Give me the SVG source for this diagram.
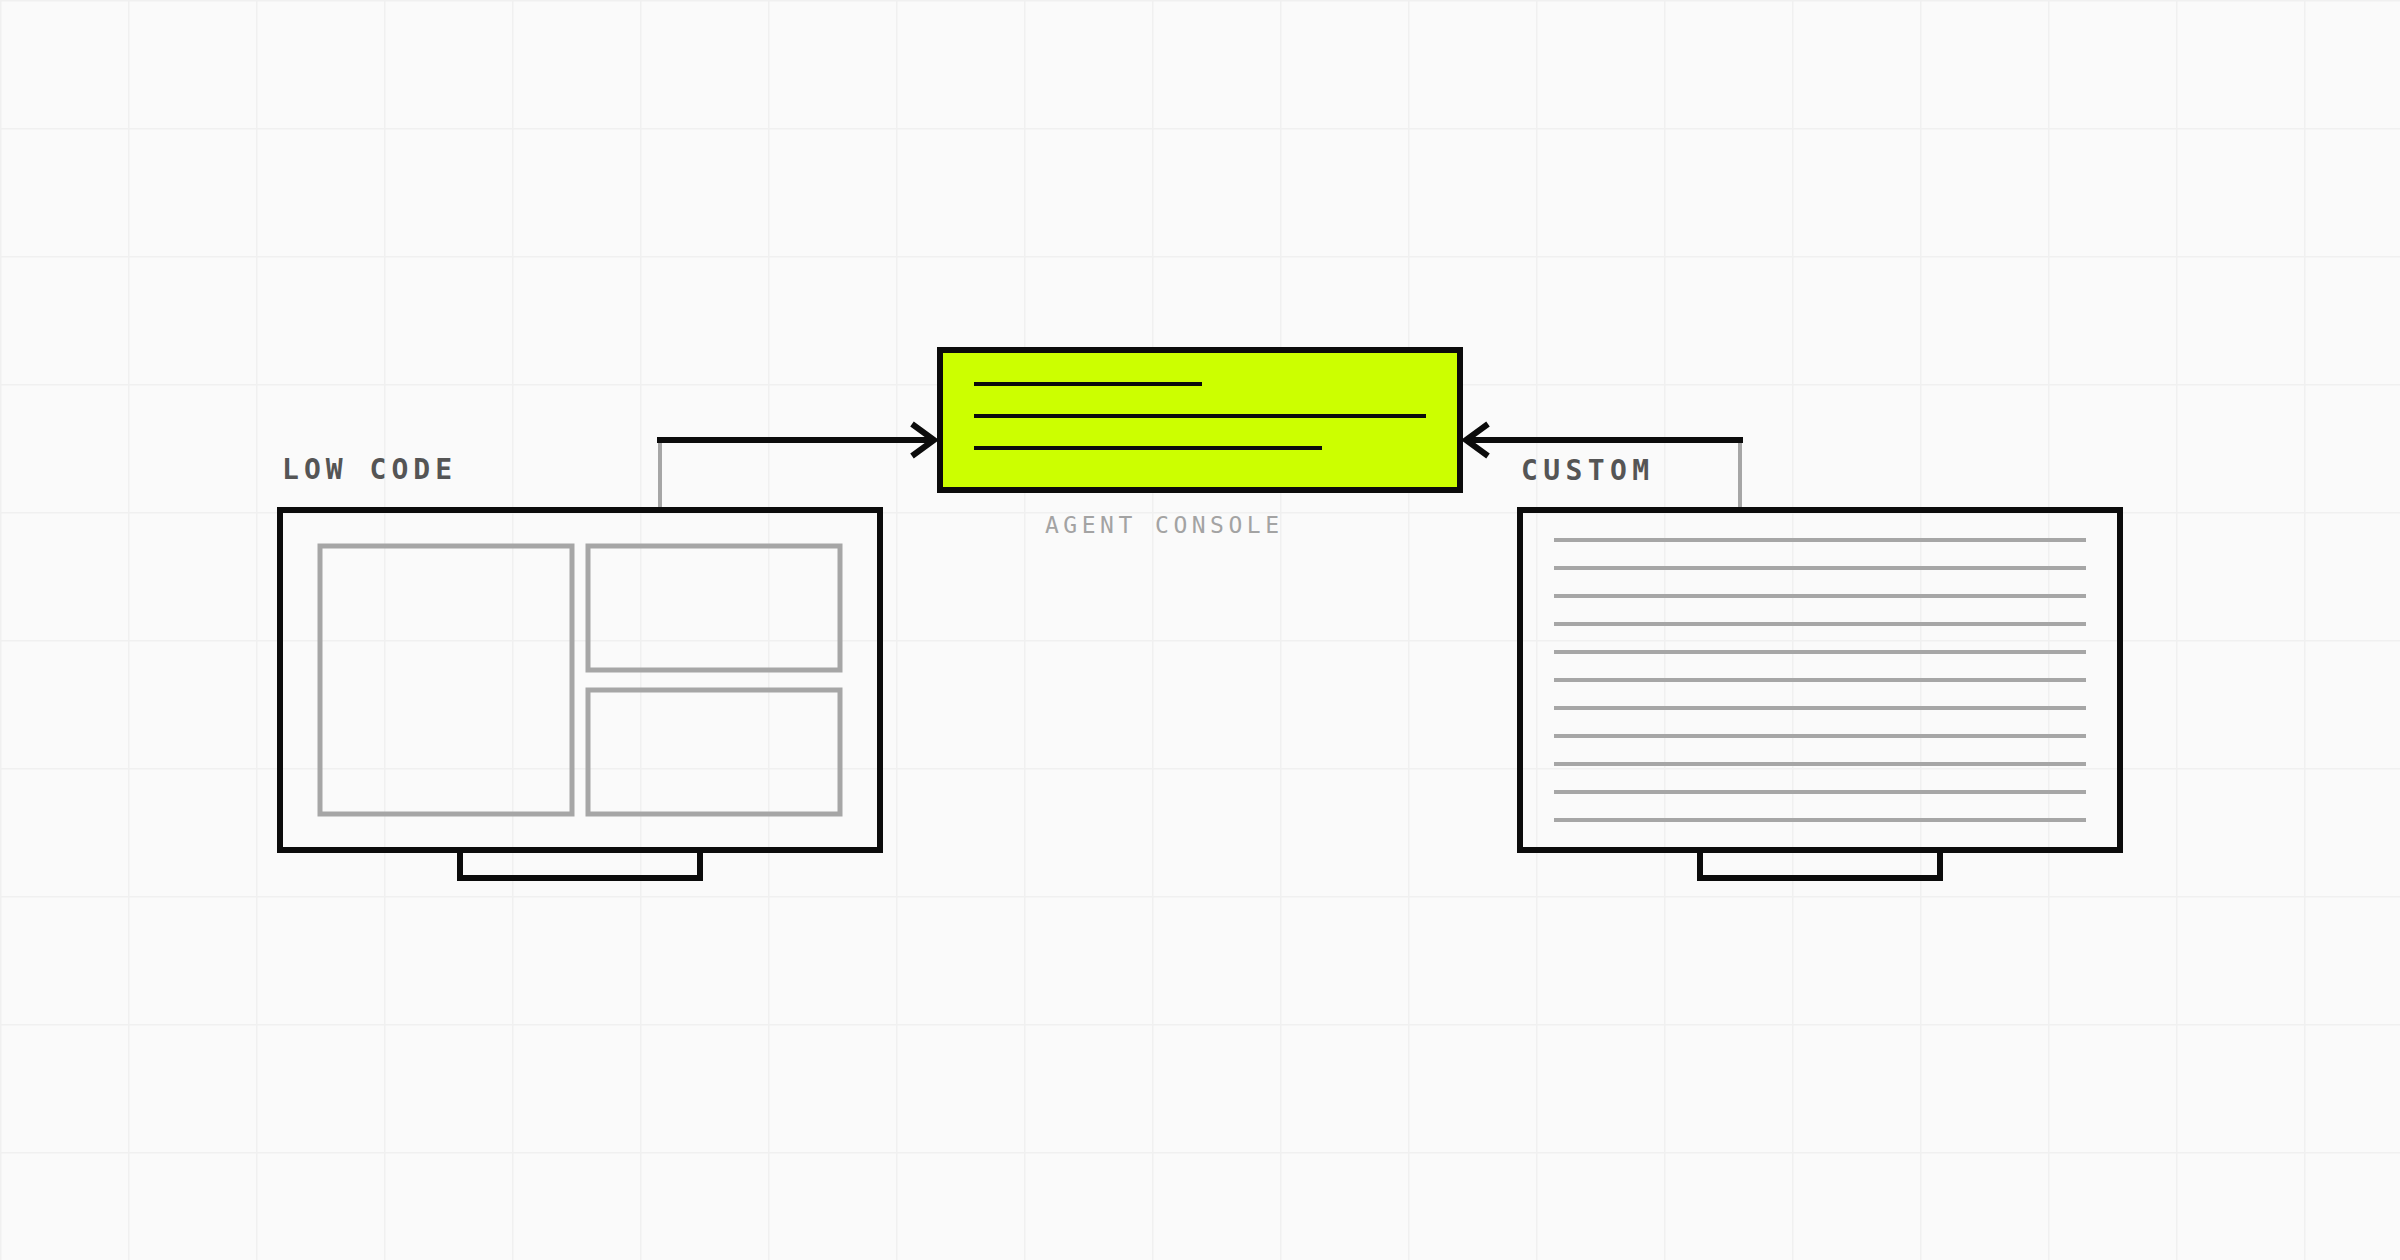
<svg xmlns="http://www.w3.org/2000/svg" width="2400" height="1260" viewBox="0 0 2400 1260">
  <style>
    .frame { fill: none; stroke: #0b0b0b; stroke-width: 6; }
    .panel { fill: none; stroke: #a6a6a6; stroke-width: 5; }
    .rule { stroke: #a6a6a6; stroke-width: 4; }
    .ink { stroke: #0b0b0b; stroke-width: 4; }
    .conn { fill: none; stroke: #0b0b0b; stroke-width: 6; }
    .stem { stroke: #a6a6a6; stroke-width: 4; }
    .label { font-family: "DejaVu Sans Mono", "Liberation Mono", monospace; font-size: 28px; font-weight: bold; fill: #555555; }
    .caption { font-family: "DejaVu Sans Mono", "Liberation Mono", monospace; font-size: 23px; fill: #a3a3a3; }
  </style>
  <defs>
    <pattern id="grid" width="128" height="128" patternUnits="userSpaceOnUse">
      <path d="M128 0 H0 V128" fill="none" stroke="#f0f0f0" stroke-width="3"/>
    </pattern>
    <marker id="chev" viewBox="0 0 40 40" refX="30" refY="20" markerWidth="40" markerHeight="40" markerUnits="userSpaceOnUse" orient="auto">
      <path d="M8 4 L30 20 L8 36" fill="none" stroke="#0b0b0b" stroke-width="6"/>
    </marker>
  </defs>

  <rect width="2400" height="1260" fill="#fafafa"/>
  <rect width="2400" height="1260" fill="url(#grid)"/>

  <g id="connectors">
    <line class="stem" x1="660" y1="443" x2="660" y2="507"/>
    <path class="conn" d="M657 440 H934" marker-end="url(#chev)"/>
    <line class="stem" x1="1740" y1="443" x2="1740" y2="507"/>
    <path class="conn" d="M1743 440 H1466" marker-end="url(#chev)"/>
  </g>

  <g id="low-code">
    <text class="label" x="282" y="479" textLength="170" lengthAdjust="spacing">LOW CODE</text>
    <rect class="frame" x="280" y="510" width="600" height="340"/>
    <path class="frame" d="M460 850 V878 H700 V850"/>
    <rect class="panel" x="320" y="546" width="252" height="268"/>
    <rect class="panel" x="588" y="546" width="252" height="124"/>
    <rect class="panel" x="588" y="690" width="252" height="124"/>
  </g>

  <g id="agent-console">
    <rect x="940" y="350" width="520" height="140" fill="#ccff00" stroke="#0b0b0b" stroke-width="6"/>
    <line class="ink" x1="974" y1="384" x2="1202" y2="384"/>
    <line class="ink" x1="974" y1="416" x2="1426" y2="416"/>
    <line class="ink" x1="974" y1="448" x2="1322" y2="448"/>
    <text class="caption" x="1045" y="533" textLength="234" lengthAdjust="spacing">AGENT CONSOLE</text>
  </g>

  <g id="custom">
    <text class="label" x="1521" y="480" textLength="128" lengthAdjust="spacing">CUSTOM</text>
    <rect class="frame" x="1520" y="510" width="600" height="340"/>
    <path class="frame" d="M1700 850 V878 H1940 V850"/>
    <line class="rule" x1="1554" y1="540" x2="2086" y2="540"/>
    <line class="rule" x1="1554" y1="568" x2="2086" y2="568"/>
    <line class="rule" x1="1554" y1="596" x2="2086" y2="596"/>
    <line class="rule" x1="1554" y1="624" x2="2086" y2="624"/>
    <line class="rule" x1="1554" y1="652" x2="2086" y2="652"/>
    <line class="rule" x1="1554" y1="680" x2="2086" y2="680"/>
    <line class="rule" x1="1554" y1="708" x2="2086" y2="708"/>
    <line class="rule" x1="1554" y1="736" x2="2086" y2="736"/>
    <line class="rule" x1="1554" y1="764" x2="2086" y2="764"/>
    <line class="rule" x1="1554" y1="792" x2="2086" y2="792"/>
    <line class="rule" x1="1554" y1="820" x2="2086" y2="820"/>
  </g>
</svg>
